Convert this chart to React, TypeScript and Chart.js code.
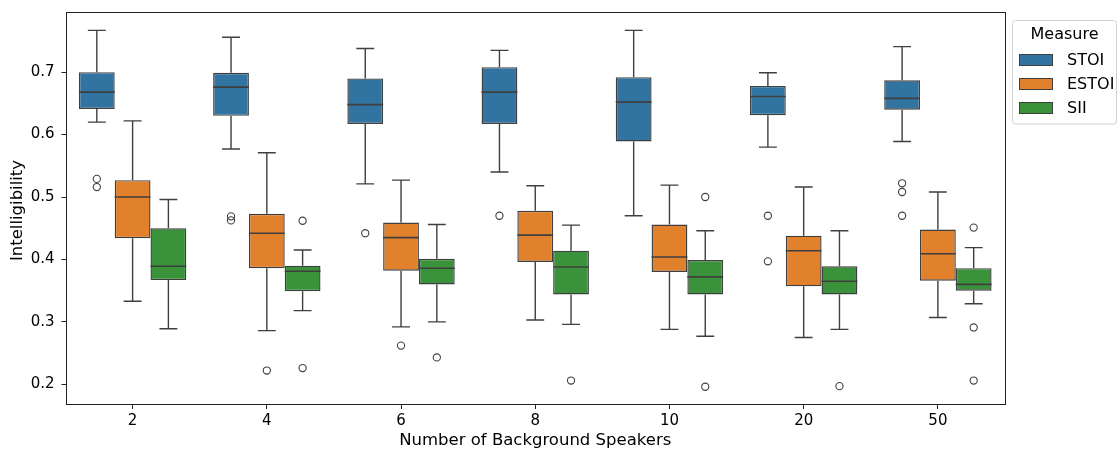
import React, { useEffect, useRef } from "react";
import { Chart, registerables } from "chart.js";

Chart.register(...registerables);

const categories = ["2", "4", "6", "8", "10", "20", "50"];
const measures = ["STOI", "ESTOI", "SII"];
const colors = ["#3274a1", "#e1812c", "#3a923a"];
const yTicks = [0.2, 0.3, 0.4, 0.5, 0.6, 0.7];
const Y_MIN = 0.1668;
const Y_MAX = 0.790;
const FRAME_TOP = 0.7966;

// [whiskerLow, q1, median, q3, whiskerHigh] per category
const stoiStats = [
  [0.620, 0.641, 0.668, 0.700, 0.767],
  [0.577, 0.630, 0.676, 0.699, 0.756],
  [0.521, 0.617, 0.648, 0.690, 0.738],
  [0.540, 0.617, 0.668, 0.708, 0.735],
  [0.470, 0.589, 0.652, 0.692, 0.767],
  [0.580, 0.631, 0.661, 0.678, 0.699],
  [0.589, 0.640, 0.658, 0.687, 0.741],
];
const estoiStats = [
  [0.333, 0.434, 0.500, 0.527, 0.622],
  [0.286, 0.386, 0.442, 0.473, 0.571],
  [0.292, 0.382, 0.435, 0.459, 0.527],
  [0.303, 0.396, 0.439, 0.478, 0.518],
  [0.288, 0.380, 0.404, 0.456, 0.519],
  [0.275, 0.357, 0.414, 0.438, 0.516],
  [0.307, 0.366, 0.409, 0.448, 0.508],
];
const siiStats = [
  [0.289, 0.367, 0.389, 0.450, 0.496],
  [0.318, 0.349, 0.381, 0.390, 0.415],
  [0.300, 0.360, 0.386, 0.401, 0.456],
  [0.296, 0.344, 0.388, 0.414, 0.455],
  [0.277, 0.344, 0.372, 0.399, 0.446],
  [0.288, 0.344, 0.365, 0.389, 0.446],
  [0.329, 0.350, 0.360, 0.386, 0.419],
];
const stoiOutliers = [
  [0.529, 0.516],
  [0.469, 0.4625],
  [0.442],
  [0.470],
  [],
  [0.470, 0.397],
  [0.522, 0.508, 0.470],
];
const estoiOutliers = [[], [0.222], [0.262], [], [], [], []];
const siiOutliers = [
  [],
  [0.462, 0.226],
  [0.243],
  [0.206],
  [0.500, 0.196],
  [0.197],
  [0.451, 0.291, 0.206],
];

const allStats = [stoiStats, estoiStats, siiStats];
const allOutliers = [stoiOutliers, estoiOutliers, siiOutliers];

const LINE = "#3f3f3f";
const FONT = "'DejaVu Sans', sans-serif";

const boxPlugin = {
  id: "boxExtras",
  beforeDraw(chart: any) {
    const ctx = chart.ctx;
    ctx.save();
    ctx.fillStyle = "#fff";
    ctx.fillRect(0, 0, chart.width, chart.height);
    ctx.restore();
  },
  afterDatasetsDraw(chart: any) {
    const ctx = chart.ctx;
    const y = chart.scales.y;
    ctx.save();
    allStats.forEach((stats, di) => {
      const meta = chart.getDatasetMeta(di);
      meta.data.forEach((el: any, i: number) => {
        const [lo, q1, med, q3, hi] = stats[i];
        const x = el.x;
        const w = el.width;
        ctx.strokeStyle = LINE;
        ctx.lineWidth = 1.4;
        ctx.beginPath();
        ctx.moveTo(x, y.getPixelForValue(q3));
        ctx.lineTo(x, y.getPixelForValue(hi));
        ctx.moveTo(x - w / 4, y.getPixelForValue(hi));
        ctx.lineTo(x + w / 4, y.getPixelForValue(hi));
        ctx.moveTo(x, y.getPixelForValue(q1));
        ctx.lineTo(x, y.getPixelForValue(lo));
        ctx.moveTo(x - w / 4, y.getPixelForValue(lo));
        ctx.lineTo(x + w / 4, y.getPixelForValue(lo));
        ctx.stroke();
        ctx.lineWidth = 1.6;
        ctx.beginPath();
        ctx.moveTo(x - w / 2, y.getPixelForValue(med));
        ctx.lineTo(x + w / 2, y.getPixelForValue(med));
        ctx.stroke();
        ctx.lineWidth = 1.1;
        allOutliers[di][i].forEach((v: number) => {
          ctx.beginPath();
          ctx.arc(x, y.getPixelForValue(v), 3.6, 0, Math.PI * 2);
          ctx.stroke();
        });
      });
    });
    const a = chart.chartArea;
    const top = Math.round(y.getPixelForValue(FRAME_TOP));
    ctx.strokeStyle = "#222";
    ctx.lineWidth = 1;
    ctx.strokeRect(Math.round(a.left) + 0.5, top + 0.5, Math.round(a.right - a.left) - 1, Math.round(a.bottom) - top - 1);
    ctx.restore();
  },
  afterDraw(chart: any) {
    const ctx = chart.ctx;
    ctx.save();
    const bx = 1012.5, by = 20.5, bw = 104, bh = 103.5, r = 3;
    ctx.beginPath();
    ctx.moveTo(bx + r, by);
    ctx.lineTo(bx + bw - r, by);
    ctx.arcTo(bx + bw, by, bx + bw, by + r, r);
    ctx.lineTo(bx + bw, by + bh - r);
    ctx.arcTo(bx + bw, by + bh, bx + bw - r, by + bh, r);
    ctx.lineTo(bx + r, by + bh);
    ctx.arcTo(bx, by + bh, bx, by + bh - r, r);
    ctx.lineTo(bx, by + r);
    ctx.arcTo(bx, by, bx + r, by, r);
    ctx.closePath();
    ctx.fillStyle = "rgba(255,255,255,0.8)";
    ctx.fill();
    ctx.strokeStyle = "#d0d0d0";
    ctx.lineWidth = 1;
    ctx.stroke();
    ctx.fillStyle = "#000";
    ctx.font = `16px ${FONT}`;
    ctx.textAlign = "center";
    ctx.textBaseline = "middle";
    ctx.fillText("Measure", 1064.5, 35);
    ctx.textAlign = "left";
    measures.forEach((m, k) => {
      const cy = 60 + k * 24;
      ctx.fillStyle = colors[k];
      ctx.fillRect(1019.5, cy - 5.5, 33, 11);
      ctx.strokeStyle = LINE;
      ctx.lineWidth = 1;
      ctx.strokeRect(1019.5, cy - 5.5, 33, 11);
      ctx.fillStyle = "#000";
      ctx.fillText(m, 1067, cy + 1);
    });
    ctx.restore();
  },
};

export default function App() {
  const ref = useRef<HTMLCanvasElement>(null);
  useEffect(() => {
    document.body.style.margin = "0";
    const chart = new Chart(ref.current as HTMLCanvasElement, {
      type: "bar",
      data: {
        labels: categories,
        datasets: measures.map((m, di) => ({
          label: m,
          data: allStats[di].map((s) => [s[1], s[3]] as [number, number]),
          backgroundColor: colors[di],
          borderColor: LINE,
          borderWidth: 1.4,
          borderSkipped: false,
          categoryPercentage: 0.8,
          barPercentage: 1.0,
        })),
      },
      options: {
        animation: false,
        responsive: false,
        maintainAspectRatio: false,
        layout: { padding: { top: 8, right: 115, left: 0, bottom: 0 } },
        plugins: { legend: { display: false }, tooltip: { enabled: false } },
        scales: {
          x: {
            offset: true,
            grid: { display: true, drawOnChartArea: false, drawTicks: true, tickLength: 4, color: "#222", offset: false },
            border: { display: false },
            ticks: { color: "#000", font: { family: FONT, size: 15 }, padding: 3 },
            title: { display: true, text: "Number of Background Speakers", color: "#000", font: { family: FONT, size: 16.5, lineHeight: 1.0 }, padding: { top: 0, bottom: 0 } },
            afterFit: (s: any) => { s.height = 44; },
          },
          y: {
            min: Y_MIN,
            max: Y_MAX,
            grid: { display: true, drawOnChartArea: false, drawTicks: true, tickLength: 4, color: "#222" },
            border: { display: false },
            afterBuildTicks: (s: any) => { s.ticks = yTicks.map((v) => ({ value: v })); },
            ticks: { color: "#000", font: { family: FONT, size: 15 }, padding: 7, callback: (v: any) => Number(v).toFixed(1) },
            title: { display: true, text: "Intelligibility", color: "#000", font: { family: FONT, size: 16.5 }, padding: { top: 8, bottom: 0 } },
            afterFit: (s: any) => { s.width = 65.5; },
          },
        },
      },
      plugins: [boxPlugin],
    });
    return () => chart.destroy();
  }, []);
  return (
    <div style={{ width: 1120, height: 449 }}>
      <canvas ref={ref} width={1120} height={449} style={{ display: "block" }} />
    </div>
  );
}
